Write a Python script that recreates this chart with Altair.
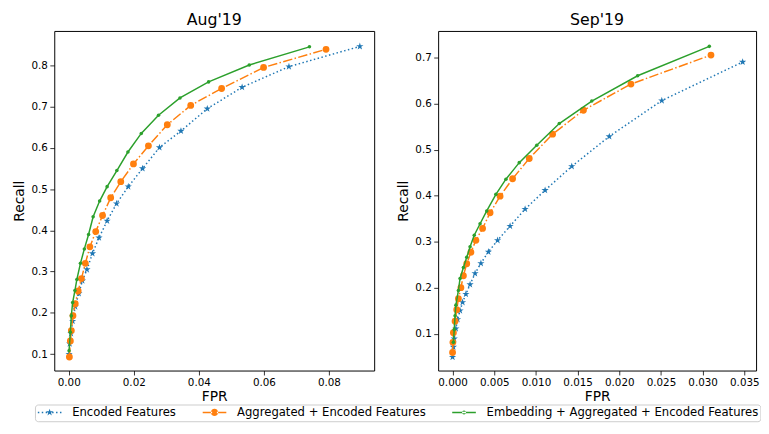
import altair as alt
import pandas as pd

# ---------------- data ----------------
series_names = ["Encoded Features",
                "Aggregated + Encoded Features",
                "Embedding + Aggregated + Encoded Features"]
series_colors = ["#1f77b4", "#ff7f0e", "#2ca02c"]

# Aug'19
enc_fpr_aug = [0.0895, 0.0677, 0.0533, 0.0426, 0.0345, 0.0279, 0.0227, 0.0183, 0.0147, 0.0118,
               0.0093, 0.0073, 0.0056, 0.0042, 0.0031, 0.0020, 0.0012, 0.0007, 0.0003, 0.0001]
enc_rec_aug = [0.846, 0.797, 0.747, 0.695, 0.641, 0.601, 0.550, 0.506, 0.465, 0.423,
               0.382, 0.344, 0.305, 0.278, 0.247, 0.215, 0.180, 0.150, 0.125, 0.100]
agg_fpr_aug = [0.0791, 0.0599, 0.0470, 0.0375, 0.0303, 0.0245, 0.0199, 0.0160, 0.0129, 0.0104,
               0.0083, 0.0065, 0.0051, 0.0039, 0.0029, 0.0020, 0.0013, 0.0008, 0.0005, 0.0002]
agg_rec_aug = [0.839, 0.795, 0.744, 0.703, 0.656, 0.605, 0.561, 0.518, 0.479, 0.436,
               0.397, 0.360, 0.320, 0.283, 0.253, 0.222, 0.193, 0.157, 0.132, 0.093]
emb_fpr_aug = [0.0740, 0.0555, 0.0430, 0.0342, 0.0276, 0.0223, 0.0182, 0.0148, 0.0118, 0.0095,
               0.0075, 0.0061, 0.0048, 0.0036, 0.0025, 0.0019, 0.0012, 0.0008, 0.0005, 0.0001]
emb_rec_aug = [0.845, 0.801, 0.760, 0.721, 0.679, 0.635, 0.590, 0.545, 0.506, 0.471,
               0.433, 0.390, 0.355, 0.320, 0.281, 0.254, 0.225, 0.193, 0.153, 0.108]

# Sep'19
enc_fpr_sep = [0.0348, 0.0251, 0.0188, 0.0143, 0.0111, 0.0087, 0.0069, 0.0054, 0.0043, 0.0034,
               0.0027, 0.0021, 0.0016, 0.0012, 0.0009, 0.0006, 0.0004, 0.0002, 0.0001, 0.0000]
enc_rec_sep = [0.691, 0.607, 0.529, 0.464, 0.412, 0.371, 0.334, 0.303, 0.278, 0.253,
               0.231, 0.207, 0.186, 0.168, 0.150, 0.131, 0.111, 0.089, 0.071, 0.049]
agg_fpr_sep = [0.0310, 0.0214, 0.0157, 0.0120, 0.0092, 0.0072, 0.0057, 0.0045, 0.0036, 0.0028,
               0.0022, 0.0017, 0.0013, 0.0010, 0.0007, 0.0005, 0.0003, 0.0001, 0.00004, 0.0000]
agg_rec_sep = [0.706, 0.643, 0.586, 0.534, 0.481, 0.437, 0.399, 0.363, 0.329, 0.303,
               0.277, 0.252, 0.226, 0.200, 0.176, 0.152, 0.127, 0.102, 0.081, 0.059]
emb_fpr_sep = [0.0308, 0.0222, 0.0167, 0.0128, 0.0101, 0.0080, 0.0064, 0.0052, 0.0041, 0.0033,
               0.0026, 0.0021, 0.0017, 0.0013, 0.0009, 0.0007, 0.0004, 0.0003, 0.0002, 0.0001]
emb_rec_sep = [0.725, 0.661, 0.606, 0.557, 0.510, 0.472, 0.436, 0.403, 0.367, 0.339,
               0.314, 0.289, 0.266, 0.244, 0.220, 0.194, 0.162, 0.139, 0.109, 0.081]

aug_xticks = [0.0, 0.02, 0.04, 0.06, 0.08]
aug_yticks = [0.1, 0.2, 0.3, 0.4, 0.5, 0.6, 0.7, 0.8]
sep_xticks = [0.0, 0.005, 0.01, 0.015, 0.02, 0.025, 0.03, 0.035]
sep_yticks = [0.1, 0.2, 0.3, 0.4, 0.5, 0.6, 0.7]

# ---------------- table ----------------
rows = []
for panel_name, sets in [("Aug'19", [(enc_fpr_aug, enc_rec_aug), (agg_fpr_aug, agg_rec_aug), (emb_fpr_aug, emb_rec_aug)]),
                         ("Sep'19", [(enc_fpr_sep, enc_rec_sep), (agg_fpr_sep, agg_rec_sep), (emb_fpr_sep, emb_rec_sep)])]:
    for name, (fx, ry) in zip(series_names, sets):
        for f, r in zip(fx, ry):
            rows.append({"panel": panel_name, "series": name, "fpr": f, "recall": r})
df = pd.DataFrame(rows)

# ---------------- marker shapes ----------------
STAR = ("M0,-1L0.2245,-0.309L0.9511,-0.309L0.3633,0.118L0.5878,0.809L0,0.382"
        "L-0.5878,0.809L-0.3633,0.118L-0.9511,-0.309L-0.2245,-0.309Z")

S = 5.0  # legend symbol: px per path unit (symbolSize=100)


def u(px):
    return round(px / S - 1, 4)


def rect(x0, x1, h=0.75):
    hh = round(h / S, 4)
    return f"M{u(x0)},{-hh}H{u(x1)}V{hh}H{u(x0)}Z"


def circ(cx, r):
    c, rr = u(cx), round(r / S, 4)
    return f"M{c - rr},0A{rr},{rr} 0 1,0 {c + rr},0A{rr},{rr} 0 1,0 {c - rr},0Z"


def star(cx, r):
    c, k = u(cx), r / S
    pts = STAR[1:-1].split("L")
    out = []
    for i, p in enumerate(pts):
        a, b = p.split(",")
        out.append(("M" if i == 0 else "L") + f"{round(c + float(a) * k, 4)},{round(float(b) * k, 4)}")
    return "".join(out) + "Z"


legend_paths = [
    rect(0, 1.5) + rect(4, 5.5) + rect(8, 9.5) + star(12, 3.8) + rect(14.5, 16) + rect(18.5, 20) + rect(22.5, 24),
    rect(0, 9.6) + circ(12, 3.7) + rect(14.4, 24),
    rect(0, 24) + circ(12, 2.0),
]

styles = [
    dict(dash=[1.5, 2.5], shape=STAR, size=60),
    dict(dash=[9.6, 2.4, 1.5, 2.4], shape="circle", size=48),
    dict(dash=None, shape="circle", size=13),
]

cscale = alt.Scale(domain=series_names, range=series_colors)
FONT = "DejaVu Sans"
PLOT_H = 345


def panel(title, xdom, ydom, xticks, xfmt, yticks, width, with_legend):
    base = alt.Chart(df).transform_filter(alt.datum.panel == title)
    x = alt.X("fpr:Q", title="FPR", scale=alt.Scale(domain=xdom, nice=False, zero=False),
              axis=alt.Axis(values=xticks, format=xfmt))
    y = alt.Y("recall:Q", title="Recall", scale=alt.Scale(domain=ydom, nice=False, zero=False),
              axis=alt.Axis(values=yticks, format=".1f"))
    layers = []
    for name, col, st in zip(series_names, series_colors, styles):
        mk = dict(strokeWidth=1.5, clip=True, color=col,
                  point=alt.OverlayMarkDef(filled=True, shape=st["shape"], size=st["size"],
                                           opacity=1, color=col))
        if st["dash"]:
            mk["strokeDash"] = st["dash"]
        layers.append(
            base.transform_filter(alt.datum.series == name)
            .mark_line(**mk)
            .encode(x=x, y=y)
        )
    if with_legend:
        lg = dict(title=None, orient="none", legendX=-19.6, legendY=379.5, direction="horizontal",
                  symbolSize=100, symbolStrokeWidth=0, symbolOpacity=1, labelOffset=24,
                  labelFont=FONT, labelFontSize=11.8, labelColor="black", labelLimit=500,
                  columnPadding=25.5, padding=2, strokeColor="#cccccc", fillColor="white",
                  cornerRadius=3)
        layers.append(
            base.transform_filter("false")
            .mark_point(filled=True, opacity=1)
            .encode(color=alt.Color("series:N", scale=cscale, legend=alt.Legend(**lg)),
                    shape=alt.Shape("series:N", scale=alt.Scale(domain=series_names, range=legend_paths),
                                    legend=alt.Legend(**lg)))
        )
    return alt.layer(*layers).properties(
        width=width, height=PLOT_H,
        title=alt.TitleParams(text=title, frame="group", anchor="middle", font=FONT,
                              fontSize=16, fontWeight="normal", color="black", offset=3),
    )


left = panel("Aug'19", [-0.00445, 0.0939], [0.0601, 0.8835], aug_xticks, ".2f", aug_yticks, 325, True)
right = panel("Sep'19", [-0.00173, 0.03641], [0.0197, 0.7585], sep_xticks, ".3f", sep_yticks, 323, False)

chart = alt.hconcat(left, right, spacing=65, bounds="flush").properties(
    padding={"left": 4, "top": 0, "right": 0, "bottom": 0}
).configure_axis(
    labelFont=FONT, labelFontSize=10.5, labelColor="black",
    titleFont=FONT, titleFontSize=14, titleFontWeight="normal", titleColor="black",
    domain=False, grid=False, tickColor="black", tickSize=4.5, tickWidth=0.8,
    labelPadding=2.5,
).configure_axisX(titlePadding=2).configure_axisY(titlePadding=4.7).configure_view(
    stroke="black", strokeWidth=1
)

chart.save("out.html", embed_options={"renderer": "svg", "actions": False})
